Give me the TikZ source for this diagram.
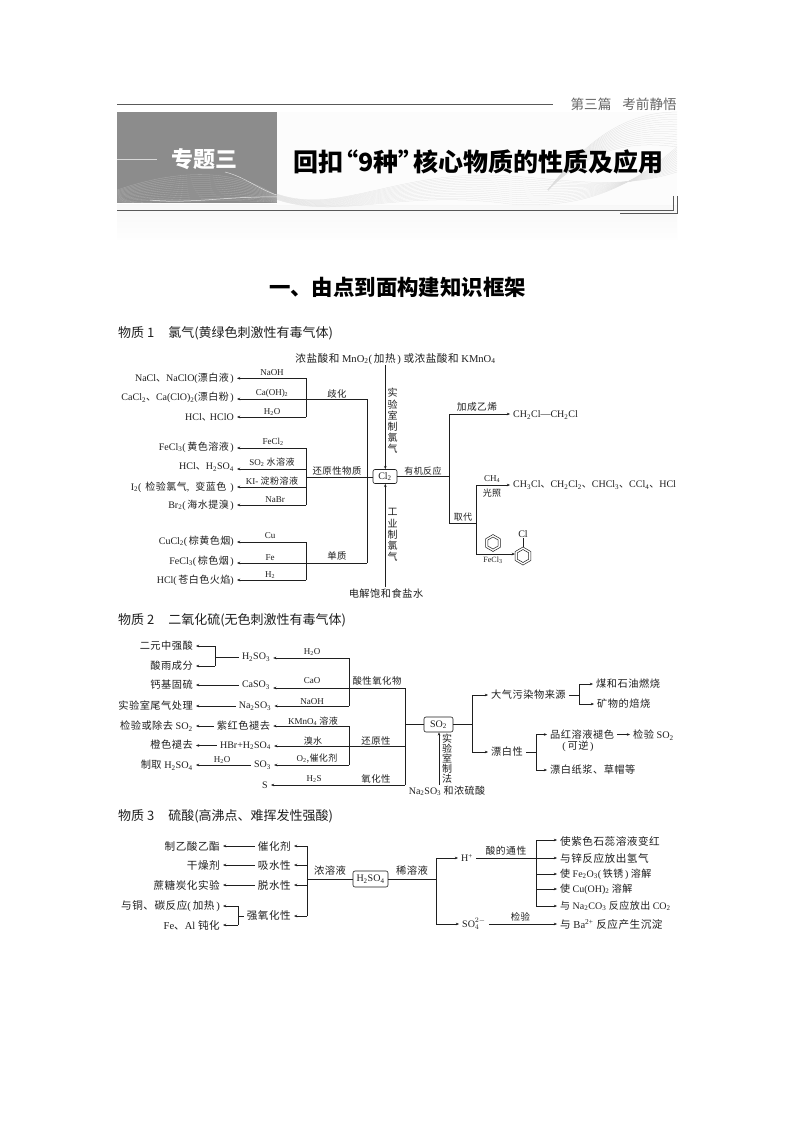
\documentclass[tikz,border=0pt]{standalone}
\usepackage{fontspec}
\usetikzlibrary{arrows.meta,shapes.geometric}
\setmainfont{Liberation Serif}
\newfontfamily\cjk[LetterSpace=5]{Noto Sans CJK SC}
\newfontfamily\cjkhd{Noto Sans CJK SC}
\newcommand\Z[1]{{\cjk #1}}
\newcommand\dn[1]{\textsubscript{#1}}
\definecolor{ink}{gray}{0.12}
\definecolor{hdgray}{gray}{0.55}
\tikzset{
  x=1pt,y=-1pt,
  ln/.style={draw=ink,line width=0.6pt},
  ar/.style={ln,-{Stealth[length=3.2pt,width=2.6pt]}},
  txt/.style={inner xsep=3pt,inner ysep=1pt,text=ink,font=\fontsize{10}{12}\selectfont},
  lt/.style={txt,anchor=east},
  rt/.style={txt,anchor=west},
  two/.style={font=\fontsize{10.2}{12}\selectfont},
  three/.style={font=\fontsize{10.6}{12}\selectfont},
  el/.style={inner sep=0.5pt,text=ink,font=\fontsize{9}{11}\selectfont},
  vl/.style={inner sep=0pt,text=ink,align=center,font=\fontsize{10}{11.2}\selectfont},
  bx/.style={draw=ink,line width=0.6pt,rounded corners=2pt,inner sep=0pt,text=ink,font=\fontsize{10}{12}\selectfont},
  hd/.style={anchor=west,inner sep=0pt,text=ink,font=\fontsize{13}{15}\cjkhd},
  hex/.style={regular polygon,regular polygon sides=6,shape border rotate=30,draw=ink,line width=0.5pt,inner sep=0pt},
}
\begin{document}
\begin{tikzpicture}
\useasboundingbox (0,0) rectangle (794,1123);
\fill[white] (0,0) rectangle (794,1123);
% header
\shade[top color=black!3,bottom color=black!0.5] (117,205) rectangle (677,239);
\fill[black!1] (277,112) rectangle (677,205);
\begin{scope}
\clip (277,112) rectangle (677,210);
\foreach \i in {0,...,14}{
  \draw[black!12,line width=0.25pt] (277,194+\i*0.4) .. controls (340,216+\i*0.3) and (400,168+\i*1.5) .. (510,176+\i*2) .. controls (570,180+\i*2) and (620,190+\i*0.5) .. (677,172-\i*1.8);
  \draw[black!13,line width=0.25pt] (548,190) .. controls (590,135+\i*1) and (630,112+\i*2) .. (677,112+\i*2.5);
}
\end{scope}
\draw[ln,line width=0.7pt,draw=black!65] (117,104) -- (553,104);
\node[anchor=east,inner sep=0pt,text=black!60,font=\fontsize{13.6}{15}\cjkhd] (part) at (677,104) {第三篇\hspace{11pt}考前静悟};
\fill[hdgray] (117,112) rectangle (277,203);
\begin{scope}
\clip (117,112) rectangle (277,203);
\foreach \i in {0,...,13}{
  \draw[white,opacity=.28,line width=0.3pt] (117,190+\i*1) .. controls (170,172+\i*2.3) and (230,165+\i*2.6) .. (277,196+\i*0.5);
}
\draw[white,opacity=.8,line width=0.5pt] (150,200) .. controls (190,204) and (230,196) .. (277,197);
\draw[white,opacity=.7,line width=0.5pt] (225,172) .. controls (245,177) and (260,190) .. (277,195);
\end{scope}
\draw[white!85!black,line width=0.9pt] (117,159) -- (157,159);
\node[inner sep=0pt,text=white,font=\fontsize{22}{24}\cjkhd\bfseries] (topic) at (204,159) {专题三};
\node[anchor=west,inner sep=0pt,text=black,font=\fontsize{25}{28}\cjkhd\bfseries] (title) at (293,162) {回扣\kern-.4em“9种”\kern-.4em 核心物质的性质及应用};
\draw[ln,line width=0.7pt,draw=black!65] (117,210.7) -- (673,210.7);
\draw[ln,line width=0.6pt,draw=black!65] (673,196) -- (673,210.7);
\draw[ln,line width=0.6pt,draw=black!65] (677,196) -- (677,213.5) -- (620,213.5);
\node[inner sep=0pt,text=black,font=\fontsize{21.4}{24}\cjkhd\bfseries] (sec) at (397.5,287) {一、由点到面构建知识框架};
\node[hd] (h1) at (118,333) {物质 1\hspace{14pt}氯气(黄绿色刺激性有毒气体)};
\node[hd] (h2) at (118,620) {物质 2\hspace{14pt}二氧化硫(无色刺激性有毒气体)};
\node[hd] (h3) at (118,816) {物质 3\hspace{14pt}硫酸(高沸点、难挥发性强酸)};

%%%%%% substance 1
\node[bx,minimum width=24pt,minimum height=14pt] (cl2) at (385,476.5) {Cl\dn{2}};
\node[txt,inner xsep=0pt,three] (ctop) at (395.5,359) {\Z{浓盐酸和} MnO\dn{2}(\,\Z{加热}\,) \Z{或浓盐酸和} KMnO\dn{4}};
\node[txt,inner xsep=0pt,two] (cbot) at (386,594) {\Z{电解饱和食盐水}};
\node[vl] (vtop) at (392.5,421) {\Z{实}\\\Z{验}\\\Z{室}\\\Z{制}\\\Z{氯}\\\Z{气}};
\node[vl] (vbot) at (392.5,535) {\Z{工}\\\Z{业}\\\Z{制}\\\Z{氯}\\\Z{气}};
\coordinate (ct) at (385.3,365);
\coordinate (cb) at (385.3,587);
\draw[ar] (ct) -- (ct |- cl2.north);
\draw[ar] (cb) -- (cb |- cl2.south);

\node[lt] (a1) at (237,378) {NaCl\Z{、}NaClO(\Z{漂白液}\,)};
\node[lt] (a2) at (237,397.5) {CaCl\dn{2}\Z{、}Ca(ClO)\dn{2}(\Z{漂白粉}\,)};
\node[lt] (a3) at (237,417) {HCl\Z{、}\kern-2pt HClO};
\node[lt] (b1) at (237,447) {FeCl\dn{3}(\,\Z{黄色溶液}\,)};
\node[lt] (b2) at (237,467) {HCl\Z{、}H\dn{2}SO\dn{4}};
\node[lt] (b3) at (237,487) {I\dn{2}(\hspace{4pt}\Z{检验氯气},\hspace{6pt}\Z{变蓝色}\hspace{4pt})};
\node[lt] (b4) at (237,505) {Br\dn{2}(\,\Z{海水提溴}\,)};
\node[lt] (d1) at (237,541) {CuCl\dn{2}(\,\Z{棕黄色烟})};
\node[lt] (d2) at (237,561) {FeCl\dn{3}(\,\Z{棕色烟}\,)};
\node[lt] (d3) at (237,580) {HCl(\,\Z{苍白色火焰})};

\coordinate (ja1) at (306,378.3);
\coordinate (ja2) at (367,399);
\coordinate (ja3) at (306,417);
\coordinate (jb1) at (306,448);
\coordinate (jb2) at (306,469);
\coordinate (jb3) at (306,487);
\coordinate (jb4) at (306,505);
\coordinate (jbm) at (306,477);
\coordinate (jd1) at (306,542);
\coordinate (jd2) at (367,563);
\coordinate (jd3) at (306,580);
\draw[ln] (ja1) -- (ja3);
\draw[ln] (jb1) -- (jb4);
\draw[ln] (jd1) -- (jd3);
\draw[ln] (ja2) -- (jd2);
\draw[ln] (jbm) -- (jbm -| cl2.west);
\draw[ar] (ja1) -- (ja1 -| a1.east);
\draw[ar] (ja2) -- (ja2 -| a2.east);
\draw[ar] (ja3) -- (ja3 -| a3.east);
\draw[ar] (jb1) -- (jb1 -| b1.east);
\draw[ar] (jb2) -- (jb2 -| b2.east);
\draw[ar] (jb3) -- (jb3 -| b3.east);
\draw[ar] (jb4) -- (jb4 -| b4.east);
\draw[ar] (jd1) -- (jd1 -| d1.east);
\draw[ar] (jd2) -- (jd2 -| d2.east);
\draw[ar] (jd3) -- (jd3 -| d3.east);
\node[el] (l1) at (272,373) {NaOH};
\node[el] (l2) at (272,393) {Ca(OH)\dn{2}};
\node[el] (l3) at (272,412) {H\dn{2}O};
\node[el,font=\fontsize{9.4}{11}\selectfont] (l4) at (337,394) {\Z{歧化}};
\node[el] (l5) at (273,442) {FeCl\dn{2}};
\node[el] (l6) at (272,462.5) {SO\dn{2} \Z{水溶液}};
\node[el] (l7) at (272,481) {KI- \Z{淀粉溶液}};
\node[el] (l8) at (275,500) {NaBr};
\node[el,font=\fontsize{9.4}{11}\selectfont] (l9) at (337,471) {\Z{还原性物质}};
\node[el] (l10) at (270,536) {Cu};
\node[el] (l11) at (270,558) {Fe};
\node[el] (l12) at (270,575) {H\dn{2}};
\node[el,font=\fontsize{9.4}{11}\selectfont] (l13) at (337,556) {\Z{单质}};

\coordinate (r0) at (449.3,476.7);
\coordinate (r1) at (449.3,414);
\coordinate (r2) at (449.3,523);
\coordinate (r3) at (476,523);
\coordinate (r4) at (476,485);
\coordinate (r5) at (476,554);
\node[rt] (e1) at (510,415) {CH\dn{2}Cl—CH\dn{2}Cl};
\node[rt] (e2) at (510,485) {CH\dn{3}Cl\Z{、}CH\dn{2}Cl\dn{2}\Z{、}CHCl\dn{3}\Z{、}CCl\dn{4}\Z{、}HCl};
\draw[ln] (cl2.east |- r0) -- (r0);
\draw[ln] (r1) -- (r2) -- (r3);
\draw[ln] (r4) -- (r5);
\draw[ar] (r1) -- (r1 -| e1.west);
\draw[ar] (r4) -- (r4 -| e2.west);
\node[el,font=\fontsize{9.7}{11}\selectfont] (l14) at (477,407) {\Z{加成乙烯}};
\node[el] (l15) at (423,471) {\Z{有机反应}};
\node[el] (l16) at (463,517) {\Z{取代}};
\node[el] (l17) at (492,479) {CH\dn{4}};
\node[el] (l18) at (492,493) {\Z{光照}};
\node[el,font=\fontsize{8}{10}\selectfont] (l19) at (493,560) {FeCl\dn{3}};
\node[hex,minimum size=17pt] (bz1) at (493,543) {};
\node[hex,minimum size=12pt] (bz1i) at (493,543) {};
\node[hex,minimum size=18pt] (bz2) at (523,556) {};
\node[hex,minimum size=13pt] (bz2i) at (523,556) {};
\node[el,font=\fontsize{10}{12}\selectfont] (clx) at (523,534) {Cl};
\draw[ln,line width=0.5pt] (bz2.90) -- (clx.south);
\draw[ar] (r5) -- (r5 -| bz2.west);

%%%%%% substance 2
\node[bx,minimum width=29pt,minimum height=15pt] (so2) at (438.5,724.5) {SO\dn{2}};
\node[lt,two] (p1) at (196,646) {\Z{二元中强酸}};
\node[lt,two] (p2) at (196,666) {\Z{酸雨成分}};
\node[txt] (q1) at (256,657) {H\dn{2}SO\dn{3}};
\node[lt,two] (p3) at (196,685) {\Z{钙基固硫}};
\node[txt] (q3) at (256,685) {CaSO\dn{3}};
\node[lt,two] (p4) at (196,706) {\Z{实验室尾气处理}};
\node[txt] (q4) at (255,706) {Na\dn{2}SO\dn{3}};
\node[lt,two] (p5) at (196,726) {\Z{检验或除去} SO\dn{2}};
\node[txt,two] (q5) at (243.5,726) {\Z{紫红色褪去}};
\node[lt,two] (p6) at (196,745) {\Z{橙色褪去}};
\node[txt] (q6) at (245.5,745.5) {HBr+H\dn{2}SO\dn{4}};
\node[lt,two] (p7) at (196,765) {\Z{制取} H\dn{2}SO\dn{4}};
\node[txt] (q7) at (262.5,765) {SO\dn{3}};
\node[txt] (q8) at (265,785) {S};

\coordinate (s0) at (215,657);
\coordinate (s1) at (215,646);
\coordinate (s2) at (215,666);
\draw[ln] (s1) -- (s2);
\draw[ln] (q1.west |- s0) -- (s0);
\draw[ar] (s1) -- (s1 -| p1.east);
\draw[ar] (s2) -- (s2 -| p2.east);
\coordinate (t1) at (349,658);
\coordinate (t2) at (405,688);
\coordinate (t3) at (349,706);
\coordinate (t4) at (349,726);
\coordinate (t5) at (405,746);
\coordinate (t6) at (349,765);
\coordinate (t7) at (405,785);
\coordinate (t8) at (405,724.5);
\draw[ln] (t1) -- (t3);
\draw[ln] (t4) -- (t6);
\draw[ln] (t2) -- (t7);
\draw[ln] (t8) -- (so2.west);
\draw[ar] (t1) -- (t1 -| q1.east);
\draw[ar] (t2) -- (t2 -| q3.east);
\draw[ar] (t3) -- (t3 -| q4.east);
\draw[ar] (t4) -- (t4 -| q5.east);
\draw[ar] (t5) -- (t5 -| q6.east);
\draw[ar] (t6) -- (t6 -| q7.east);
\draw[ar] (t7) -- (t7 -| q8.east);
\draw[ar] (q3.west) -- (q3.west -| p3.east);
\draw[ar] (q4.west) -- (q4.west -| p4.east);
\draw[ar] (q5.west) -- (q5.west -| p5.east);
\draw[ar] (q6.west) -- (q6.west -| p6.east);
\draw[ar] (q7.west) -- (q7.west -| p7.east);
\node[el] (m1) at (312,652) {H\dn{2}O};
\node[el] (m2) at (312,681) {CaO};
\node[el] (m3) at (312,702) {NaOH};
\node[el,font=\fontsize{9.4}{11}\selectfont] (m4) at (377,681) {\Z{酸性氧化物}};
\node[el] (m5) at (313,721) {KMnO\dn{4} \Z{溶液}};
\node[el] (m6) at (313,741) {\Z{溴水}};
\node[el,font=\fontsize{9.4}{11}\selectfont] (m7) at (376,741) {\Z{还原性}};
\node[el] (m8) at (222,760) {H\dn{2}O};
\node[el] (m9) at (317,759) {O\dn{2}\Z{,催化剂}};
\node[el] (m10) at (314,779) {H\dn{2}S};
\node[el,font=\fontsize{9.4}{11}\selectfont] (m11) at (376,779) {\Z{氧化性}};

\node[txt,inner xsep=0pt] (na) at (447,791) {Na\dn{2}SO\dn{3} \Z{和浓硫酸}};
\node[vl,font=\fontsize{10}{10}\selectfont] (vso) at (447,759) {\Z{实}\\\Z{验}\\\Z{室}\\\Z{制}\\\Z{法}};
\coordinate (up) at (439,785);
\draw[ar] (up) -- (up |- so2.south);
\coordinate (u0) at (472,724.5);
\coordinate (u1) at (472,695);
\coordinate (u2) at (472,752);
\node[rt,two] (v1) at (488,695) {\Z{大气污染物来源}};
\node[rt,two] (v2) at (488,752) {\Z{漂白性}};
\draw[ln] (so2.east) -- (u0);
\draw[ln] (u1) -- (u2);
\draw[ar] (u1) -- (u1 -| v1.west);
\draw[ar] (u2) -- (u2 -| v2.west);
\coordinate (w0) at (579,695);
\coordinate (w1) at (579,684);
\coordinate (w2) at (579,704);
\node[rt,two] (x1) at (593,684) {\Z{煤和石油燃烧}};
\node[rt,two] (x2) at (594,704) {\Z{矿物的焙烧}};
\draw[ln] (v1.east) -- (v1.east -| w0);
\draw[ln] (w1) -- (w2);
\draw[ar] (w1) -- (w1 -| x1.west);
\draw[ar] (w2) -- (w2 -| x2.west);
\coordinate (y0) at (536,752);
\coordinate (y1) at (536,734.5);
\coordinate (y2) at (536,770);
\node[rt,two] (z1) at (547,734.5) {\Z{品红溶液褪色}};
\node[txt,two] (z1b) at (578,746) {(\,\Z{可逆}\,)};
\node[rt,two] (z2) at (547,770) {\Z{漂白纸浆、草帽等}};
\node[rt,two] (z3) at (630,735) {\Z{检验} SO\dn{2}};
\draw[ln] (v2.east) -- (v2.east -| y0);
\draw[ln] (y1) -- (y2);
\draw[ar] (y1) -- (y1 -| z1.west);
\draw[ar] (y2) -- (y2 -| z2.west);
\draw[ar] (z1.east) -- (z1.east -| z3.west);

%%%%%% substance 3
\node[bx,minimum width=35pt,minimum height=16pt] (h2so4) at (370.5,879) {H\dn{2}SO\dn{4}};
\node[lt,three] (f1) at (223,846) {\Z{制乙酸乙酯}};
\node[lt,three] (f2) at (223,865) {\Z{干燥剂}};
\node[lt,three] (f3) at (223,885) {\Z{蔗糖炭化实验}};
\node[lt,three] (f4) at (223,906) {\Z{与铜、碳反应}(\,\Z{加热}\,)};
\node[lt,three] (f5) at (223,925) {Fe\Z{、}Al \Z{钝化}};
\node[lt,three] (g1) at (294,846) {\Z{催化剂}};
\node[lt,three] (g2) at (294,865) {\Z{吸水性}};
\node[lt,three] (g3) at (294,885) {\Z{脱水性}};
\node[lt,three] (g4) at (294,916) {\Z{强氧化性}};
\coordinate (k0) at (307,879);
\coordinate (k1) at (307,846);
\coordinate (k2) at (307,865);
\coordinate (k3) at (307,885);
\coordinate (k4) at (307,916);
\draw[ln] (k1) -- (k4);
\draw[ln] (k0) -- (h2so4.west);
\draw[ar] (k1) -- (k1 -| g1.east);
\draw[ar] (k2) -- (k2 -| g2.east);
\draw[ar] (k3) -- (k3 -| g3.east);
\draw[ar] (k4) -- (k4 -| g4.east);
\draw[ar] (g1.west) -- (g1.west -| f1.east);
\draw[ar] (g2.west) -- (g2.west -| f2.east);
\draw[ar] (g3.west) -- (g3.west -| f3.east);
\coordinate (k5) at (238,916);
\coordinate (k6) at (238,906);
\coordinate (k7) at (238,925);
\draw[ln] (k6) -- (k7);
\draw[ln] (g4.west) -- (k5);
\draw[ar] (k6) -- (k6 -| f4.east);
\draw[ar] (k7) -- (k7 -| f5.east);
\node[el,font=\fontsize{10.3}{12}\selectfont] (n1) at (330,871) {\Z{浓溶液}};
\node[el,font=\fontsize{10.3}{12}\selectfont] (n2) at (412,871) {\Z{稀溶液}};
\node[el,font=\fontsize{9.8}{12}\selectfont] (n3) at (506,851) {\Z{酸的通性}};
\node[el,font=\fontsize{9.4}{11}\selectfont] (n4) at (520.5,917) {\Z{检验}};
\coordinate (o0) at (436,879);
\coordinate (o1) at (436,858);
\coordinate (o2) at (436,924);
\node[rt] (hp) at (458,858) {H\textsuperscript{+}};
\node[rt] (so4) at (459,924) {SO$_{4}^{2-}$};
\draw[ln] (h2so4.east) -- (o0);
\draw[ln] (o1) -- (o2);
\draw[ar] (o1) -- (o1 -| hp.west);
\draw[ar] (o2) -- (o2 -| so4.west);
\node[rt,three] (i1) at (557,841) {\Z{使紫色石蕊溶液变红}};
\node[rt,three] (i2) at (557,858) {\Z{与锌反应放出氢气}};
\node[rt] (i3) at (557,874) {\Z{使} Fe\dn{2}O\dn{3}(\,\Z{铁锈}\,) \Z{溶解}};
\node[rt] (i4) at (557,889) {\Z{使} Cu(OH)\dn{2} \Z{溶解}};
\node[rt] (i5) at (557,906) {\Z{与} Na\dn{2}CO\dn{3} \Z{反应放出} CO\dn{2}};
\node[rt,three] (i6) at (557,924) {\Z{与} Ba\textsuperscript{2+} \Z{反应产生沉淀}};
\coordinate (o3) at (536,858);
\coordinate (o4) at (536,840);
\coordinate (o5) at (536,874);
\coordinate (o6) at (536,889);
\coordinate (o7) at (536,906);
\draw[ln] (o4) -- (o7);
\draw[ln] (hp.east |- o3) -- (o3);
\draw[ar] (o4) -- (o4 -| i1.west);
\draw[ar] (o3) -- (o3 -| i2.west);
\draw[ar] (o5) -- (o5 -| i3.west);
\draw[ar] (o6) -- (o6 -| i4.west);
\draw[ar] (o7) -- (o7 -| i5.west);
\draw[ar] (so4.east |- o2) -- (o2 -| i6.west);
\end{tikzpicture}
\end{document}
